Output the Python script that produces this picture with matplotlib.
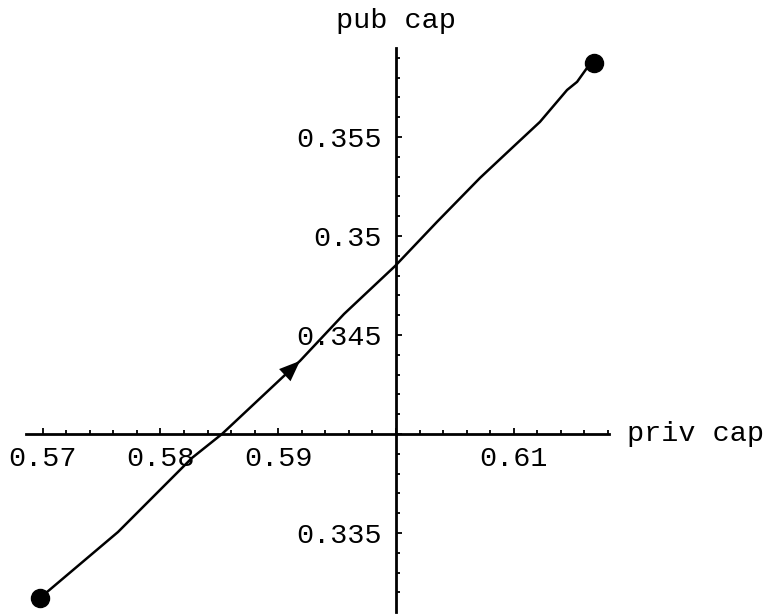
import numpy as np
import matplotlib
matplotlib.use('Agg')
import matplotlib.pyplot as plt
from matplotlib.ticker import MultipleLocator

# trajectory points (priv cap, pub cap)
priv_cap = [0.56982, 0.5764, 0.57912, 0.58268, 0.58523, 0.59185, 0.59559, 0.59992,
            0.60348, 0.60713, 0.60993, 0.61222, 0.61452, 0.61537, 0.61621, 0.61681]
pub_cap = [0.33174, 0.33505, 0.33667, 0.33879, 0.34, 0.34369, 0.34606, 0.34848,
           0.35071, 0.35293, 0.35449, 0.35576, 0.35737, 0.35778, 0.35848, 0.35874]
arrow_idx = 5

x_ticks = [0.57, 0.58, 0.59, 0.60, 0.61]
x_labels = ['0.57', '0.58', '0.59', '', '0.61']
y_ticks = [0.335, 0.34, 0.345, 0.35, 0.355]
y_labels = ['0.335', '', '0.345', '0.35', '0.355']
origin = (0.6, 0.34)

plt.rcParams['font.family'] = ['Liberation Mono', 'DejaVu Sans Mono']

W, H = 770, 614
fig = plt.figure(figsize=(W / 100, H / 100), dpi=100)
ax = fig.add_axes([26 / W, 2 / H, 583 / W, 564 / H])
ax.set_xlim(0.56859, 0.61808)
ax.set_ylim(0.33101, 0.35949)

# axes cross at the origin point, Mathematica style
for s in ['top', 'right']:
    ax.spines[s].set_visible(False)
ax.spines['left'].set_position(('data', origin[0]))
ax.spines['bottom'].set_position(('data', origin[1]))
ax.spines['left'].set_linewidth(2.0)
ax.spines['bottom'].set_linewidth(2.0)

ax.set_xticks(x_ticks)
ax.set_xticklabels(x_labels)
ax.set_yticks(y_ticks)
ax.set_yticklabels(y_labels)
ax.xaxis.set_minor_locator(MultipleLocator(0.002))
ax.yaxis.set_minor_locator(MultipleLocator(0.001))
ax.tick_params(which='major', direction='in', length=4.5, width=1.3, labelsize=20.5)
ax.tick_params(which='minor', direction='in', length=2.8, width=1.3)
ax.tick_params(axis='x', pad=9)
ax.tick_params(axis='y', pad=10)

ax.plot(priv_cap, pub_cap, color='black', lw=1.8, solid_capstyle='round')
ax.plot([priv_cap[0], priv_cap[-1]], [pub_cap[0], pub_cap[-1]], 'o',
        color='black', markersize=13)

# direction arrow on the path
ax.annotate('', xy=(priv_cap[arrow_idx], pub_cap[arrow_idx]),
            xytext=(priv_cap[arrow_idx - 1], pub_cap[arrow_idx - 1]),
            arrowprops=dict(arrowstyle='-|>,head_length=1.0,head_width=0.4',
                            mutation_scale=15, color='black', lw=0,
                            shrinkA=0, shrinkB=0))

ax.text(origin[0], 1.0 + 14 / 564, 'pub cap', transform=ax.get_xaxis_transform(),
        ha='center', va='bottom', fontsize=20.5, clip_on=False)
ax.text(1.0 + 18 / 583, origin[1], 'priv cap', transform=ax.get_yaxis_transform(),
        ha='left', va='center', fontsize=20.5, clip_on=False)

fig.savefig('out.png', dpi=100)
